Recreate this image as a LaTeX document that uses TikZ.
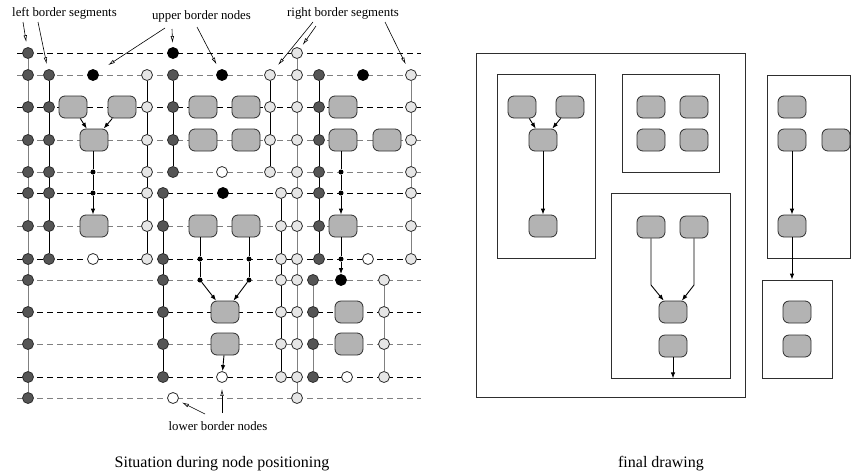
\documentclass[tikz,border=0pt]{standalone}
\usepackage{fontspec}
\setmainfont{Liberation Serif}
\usetikzlibrary{arrows.meta,backgrounds}
\definecolor{dkfill}{HTML}{555555}
\definecolor{ltfill}{HTML}{E6E6E6}
\definecolor{boxfill}{HTML}{B3B3B3}
\definecolor{rim}{HTML}{2E2E2E}
\definecolor{gridgray}{HTML}{808080}

\begin{document}
\begin{tikzpicture}[x=1pt,y=-1pt,
  vtx/.style={circle,draw=rim,line width=0.8pt,inner sep=0pt,minimum size=11pt},
  bk/.style={vtx,fill=black,draw=black},
  wt/.style={vtx,fill=white},
  dot/.style={circle,fill=black,inner sep=0pt,minimum size=5pt},
  blk/.style={draw=rim,fill=boxfill,rounded corners=6pt,minimum width=28pt,
    minimum height=22pt,inner sep=0pt,line width=0.8pt},
  rowline/.style={dash pattern=on 6pt off 4pt,line width=0.9pt},
  arr/.style={-{Latex[length=6pt,width=4.5pt]},line width=0.9pt},
  pointer/.style={-{Latex[open,length=7pt,width=3.5pt]},line width=0.6pt},
  frm/.style={draw=rim,line width=0.8pt,inner sep=0pt},
  lbl/.style={font=\fontsize{12.8}{14}\selectfont,inner sep=0pt,anchor=base},
  captext/.style={font=\fontsize{16}{18}\selectfont,inner sep=0pt,anchor=base}
]
\useasboundingbox (0,0) rectangle (851,472);

% ---------- layer grid: row coordinates ----------
\foreach \y [count=\r] in {53,75,107,140,172,193,226,259,280,312,344,377,398}{
  \coordinate (rw\r) at (17,\y);
  \coordinate (re\r) at (421,\y);
}

% ---------- border segments (columns of vertices) ----------
\foreach \nm/\x/\from/\to/\fl in {
  a/28/1/13/dkfill, b/49/2/8/dkfill, c/147/2/8/ltfill, d/163/6/12/dkfill,
  e/173/2/5/dkfill, f/270/2/5/ltfill, g/281/6/12/ltfill, h/297/1/13/ltfill,
  i/319/2/8/dkfill, j/313/9/12/dkfill, k/384/9/12/ltfill, l/411/2/8/ltfill}{
  \coordinate (x\nm) at (\x,0);
  \foreach \r in {\from,...,\to}
    \node[vtx,fill=\fl] (\nm\r) at (x\nm |- rw\r) {};
}

% ---------- upper / lower border nodes ----------
\node[bk] (u1) at (93,75) {};
\node[bk] (u2) at (173,53) {};
\node[bk] (u3) at (222,75) {};
\node[bk] (u4) at (363,75) {};
\node[bk] (u5) at (223,193) {};
\node[bk] (u6) at (341,280) {};
\node[wt] (w1) at (222,172) {};
\node[wt] (w2) at (93,259) {};
\node[wt] (w3) at (368,259) {};
\node[wt] (w4) at (222,377) {};
\node[wt] (w5) at (347,377) {};
\node[wt] (w6) at (173,398) {};

% ---------- dummy vertices of long edges ----------
\node[dot] (p1) at (93,172) {};
\node[dot] (p2) at (93,193) {};
\node[dot] (p3) at (341,172) {};
\node[dot] (p4) at (341,193) {};
\node[dot] (p5) at (341,259) {};
\node[dot] (p6) at (200,259) {};
\node[dot] (p7) at (200,280) {};
\node[dot] (p8) at (249,259) {};
\node[dot] (p9) at (249,280) {};

% ---------- graph nodes ----------
\node[blk] (s1) at (73,107) {};
\node[blk] (s2) at (122,107) {};
\node[blk] (s3) at (203,107) {};
\node[blk] (s4) at (246,107) {};
\node[blk] (s5) at (343,107) {};
\node[blk] (s6) at (94,140) {};
\node[blk] (s7) at (203,140) {};
\node[blk] (s8) at (246,140) {};
\node[blk] (s9) at (343,140) {};
\node[blk] (s10) at (387,140) {};
\node[blk] (s11) at (94,226) {};
\node[blk] (s12) at (203,226) {};
\node[blk] (s13) at (246,226) {};
\node[blk] (s14) at (343,226) {};
\node[blk] (s15) at (225,312) {};
\node[blk] (s16) at (349,312) {};
\node[blk] (s17) at (225,344) {};
\node[blk] (s18) at (349,344) {};

% ---------- grid lines and segments behind the vertices ----------
\begin{pgfonlayer}{background}
  \foreach \r/\c in {1/black,2/gridgray,3/black,4/gridgray,5/gridgray,6/black,
    7/gridgray,8/black,9/gridgray,10/black,11/gridgray,12/black,13/gridgray}
    \draw[rowline,draw=\c] (rw\r) -- (re\r);
  \foreach \nm/\from/\to/\lc in {
    a/1/13/gridgray, b/2/8/black, c/2/8/black, d/6/12/black, e/2/5/black,
    f/2/5/black, g/6/12/black, h/1/13/gridgray, i/2/8/black, j/9/12/gridgray,
    k/9/12/gridgray, l/2/8/gridgray}
    \draw[line width=1pt,draw=\lc] (\nm\from) -- (\nm\to);
\end{pgfonlayer}

% ---------- edges ----------
\draw[arr] (s1) -- (s6);
\draw[arr] (s2) -- (s6);
\draw[line width=0.9pt] (s6.south -| p1) -- (p1) -- (p2);
\draw[arr] (p2) -- (p2 |- s11.north);
\draw[line width=0.9pt] (s9.south -| p3) -- (p3) -- (p4);
\draw[arr] (p4) -- (p4 |- s14.north);
\draw[line width=0.9pt] (s14.south -| p5) -- (p5);
\draw[arr] (p5) -- (u6);
\draw[line width=0.9pt] (s12.south -| p6) -- (p6) -- (p7);
\draw[arr] (p7) -- (s15);
\draw[line width=0.9pt] (s13.south -| p8) -- (p8) -- (p9);
\draw[arr] (p9) -- (s15);
\draw[arr] (s17) -- (w4);

% ---------- annotations ----------
\node[lbl] (tl) at (64.5,16) {left border segments};
\node[lbl] (tu) at (201.5,19) {upper border nodes};
\node[lbl] (tr) at (343,16) {right border segments};
\node[lbl] (tb) at (218,430) {lower border nodes};

\coordinate (n1) at (23,22);
\coordinate (n2) at (38,22);
\coordinate (n3) at (165,28);
\coordinate (n4) at (172,29);
\coordinate (n5) at (197,27);
\coordinate (n6) at (313,22);
\coordinate (n7) at (316,26);
\coordinate (n8) at (385,22);
\coordinate (n9) at (205,414);
\coordinate (n10) at (222,413);
\draw[pointer,shorten >=5pt] (n1) -- (a1);
\draw[pointer,shorten >=5pt] (n2) -- (b2);
\draw[pointer,shorten >=12pt] (n3) -- (u1);
\draw[pointer,shorten >=4pt] (n4) -- (u2);
\draw[pointer,shorten >=6pt] (n5) -- (u3);
\draw[pointer,shorten >=7pt] (n6) -- (f2);
\draw[pointer,shorten >=4pt] (n7) -- (h1);
\draw[pointer,shorten >=6pt] (n8) -- (l2);
\draw[pointer,shorten >=4pt] (n9) -- (w6);
\draw[pointer,shorten >=6pt] (n10) -- (w4);

\node[captext] (capL) at (222,467) {Situation during node positioning};

% ================= final drawing =================
\node[frm,minimum width=269pt,minimum height=344pt] (fO) at (610.5,225) {};
\node[frm,minimum width=98pt,minimum height=184pt] (fA) at (546,166) {};
\node[frm,minimum width=97pt,minimum height=98pt] (fB) at (670.5,123) {};
\node[frm,minimum width=119pt,minimum height=185pt] (fC) at (670.5,285.5) {};
\node[frm,minimum width=83pt,minimum height=183pt] (fD) at (808.5,166.5) {};
\node[frm,minimum width=70pt,minimum height=98pt] (fE) at (797,329) {};

\node[blk] (q1) at (522,107) {};
\node[blk] (q2) at (570,107) {};
\node[blk] (q3) at (543,140) {};
\node[blk] (q4) at (543,226) {};
\node[blk] (q5) at (651,107) {};
\node[blk] (q6) at (694,107) {};
\node[blk] (q7) at (651,140) {};
\node[blk] (q8) at (694,140) {};
\node[blk] (q9) at (651,227) {};
\node[blk] (q10) at (694,227) {};
\node[blk] (q11) at (673,312) {};
\node[blk] (q12) at (673,346) {};
\node[blk] (q13) at (792,107) {};
\node[blk] (q14) at (792,140) {};
\node[blk] (q15) at (836,140) {};
\node[blk] (q16) at (792,226) {};
\node[blk] (q17) at (797,312) {};
\node[blk] (q18) at (797,346) {};

\coordinate (bendL) at (651,285);
\coordinate (bendR) at (694,285);
\draw[arr] (q1) -- (q3);
\draw[arr] (q2) -- (q3);
\draw[arr] (q3) -- (q4);
\draw[arr] (q9.south) -- (bendL) -- (q11);
\draw[arr] (q10.south) -- (bendR) -- (q11);
\draw[arr] (q12) -- (q12 |- fC.south);
\draw[arr] (q14) -- (q16);
\draw[arr] (q16) -- (q16 |- fE.north);

\node[captext] (capR) at (661,467) {final drawing};
\end{tikzpicture}
\end{document}
